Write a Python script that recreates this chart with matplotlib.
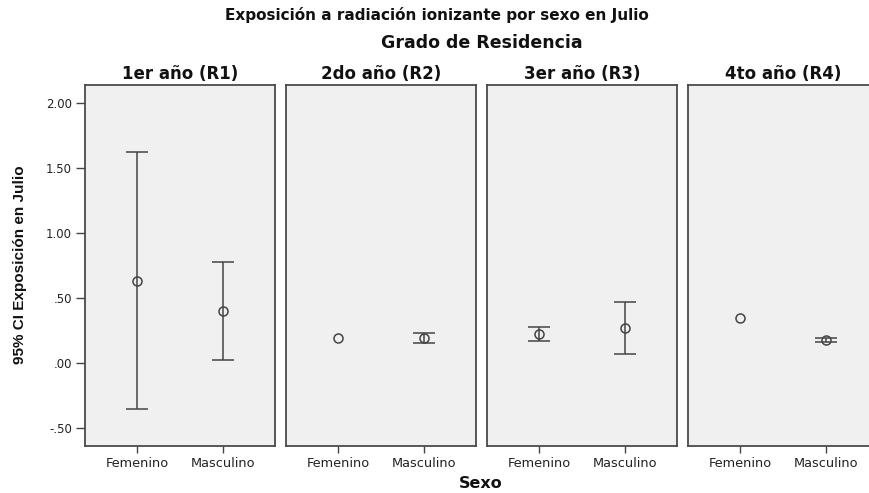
import matplotlib
matplotlib.use("Agg")
import matplotlib.pyplot as plt

plt.rcParams["font.family"] = ["DejaVu Sans"]

# Mean and 95% CI bounds per residency year, Femenino / Masculino
panels = ["1er año (R1)", "2do año (R2)", "3er año (R3)", "4to año (R4)"]
sexes = ["Femenino", "Masculino"]
means = [[0.633, 0.400], [0.190, 0.190], [0.222, 0.272], [0.350, 0.180]]
lower = [[-0.354, 0.023], [None, 0.155], [0.167, 0.072], [None, 0.165]]
upper = [[1.620, 0.777], [None, 0.228], [0.274, 0.469], [None, 0.195]]
yticks = [-0.5, 0.0, 0.5, 1.0, 1.5, 2.0]
ytick_labels = ["-.50", ".00", ".50", "1.00", "1.50", "2.00"]

W, H = 869, 493
fig = plt.figure(figsize=(W / 100, H / 100), dpi=100)

left0, top, bottom = 85, 85, 446
pw, step = 190, 201
frame = "#4a4a4a"
ink = "#444444"

for i, name in enumerate(panels):
    x0 = left0 + i * step
    ax = fig.add_axes([x0 / W, 1 - bottom / H, pw / W, (bottom - top) / H])
    ax.set_facecolor("#f0f0f0")
    for s in ax.spines.values():
        s.set_color(frame)
        s.set_linewidth(1.3)

    for j in range(len(sexes)):
        m = means[i][j]
        if lower[i][j] is not None:
            ax.errorbar(j, m, yerr=[[m - lower[i][j]], [upper[i][j] - m]],
                        fmt="none", ecolor=ink, elinewidth=1.1,
                        capsize=8, capthick=1.1)
        ax.plot(j, m, marker="o", ms=6.5, mfc="none", mec=ink, mew=1.1)

    ax.set_xlim(-0.6, 1.6)
    ax.set_ylim(-0.638, 2.138)
    ax.set_xticks(range(len(sexes)))
    ax.set_xticklabels(sexes, fontsize=9.3, color="#222222")
    ax.tick_params(axis="x", length=5, width=1, color=ink, pad=3)
    if i == 0:
        ax.set_yticks(yticks)
        ax.set_yticklabels(ytick_labels, fontsize=8.5, color="#222222")
        ax.tick_params(axis="y", length=6.5, width=1, color=ink, pad=3)
    else:
        ax.set_yticks([])
    ax.set_title(name, fontsize=12, fontweight="bold", pad=4, color="#111111")

fig.text(437 / W, 1 - 15 / H, "Exposición a radiación ionizante por sexo en Julio",
         ha="center", va="center", fontsize=11, fontweight="bold", color="#111111")
fig.text(482 / W, 1 - 43 / H, "Grado de Residencia",
         ha="center", va="center", fontsize=12.5, fontweight="bold", color="#111111")
fig.text(481 / W, 1 - 483 / H, "Sexo", ha="center", va="center",
         fontsize=11.5, fontweight="bold", color="#111111")
fig.text(20 / W, 1 - 265 / H, "95% CI Exposición en Julio", rotation=90,
         ha="center", va="center", fontsize=11, fontweight="bold", color="#111111",
         family=["Liberation Sans", "DejaVu Sans"])

fig.savefig("out.png", dpi=100)
